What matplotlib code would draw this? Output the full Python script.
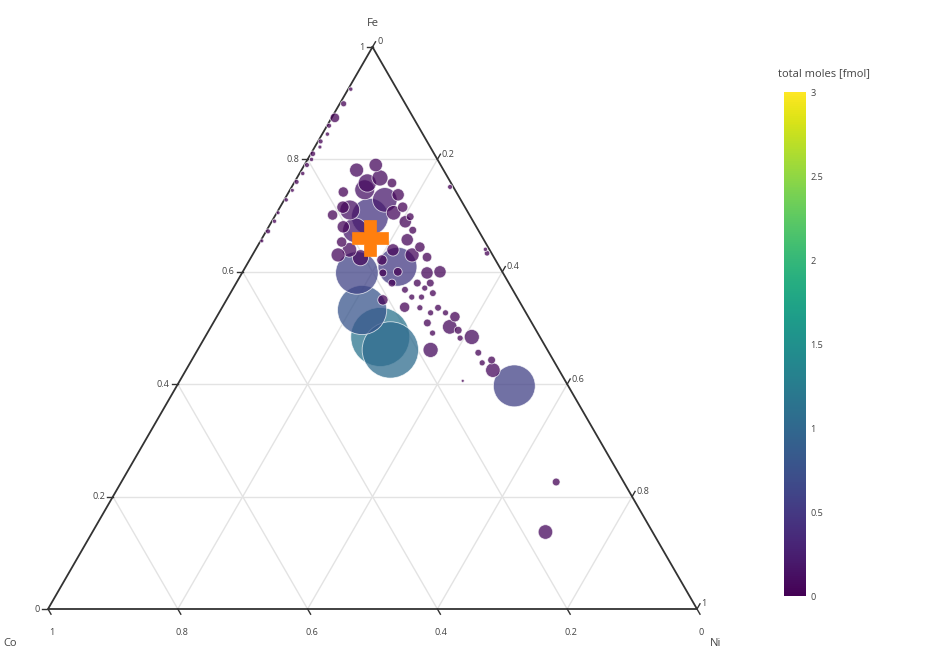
import numpy as np
import matplotlib
matplotlib.use("Agg")
import matplotlib.pyplot as plt
from matplotlib import cm, colors

plt.rcParams['font.family'] = ['Open Sans', 'DejaVu Sans']

# ---------------- data (fractions Fe, Co, Ni; total moles in fmol) ----------------
fe = [0.790, 0.758, 0.742, 0.746, 0.698, 0.710, 0.705, 0.715, 0.698, 0.674,
      0.609, 0.598, 0.644, 0.626, 0.600, 0.598, 0.598, 0.600, 0.580, 0.550,
      0.568, 0.580, 0.580, 0.555, 0.555, 0.571, 0.562, 0.537, 0.536, 0.527,
      0.536, 0.527, 0.509, 0.520, 0.502, 0.496, 0.491, 0.484, 0.461, 0.482,
      0.456, 0.443, 0.438, 0.425, 0.406, 0.397, 0.226, 0.137, 0.484, 0.461,
      0.532, 0.758, 0.715, 0.680, 0.653, 0.639, 0.657, 0.639, 0.621, 0.728,
      0.674, 0.781, 0.767, 0.737, 0.701, 0.630, 0.630, 0.689, 0.625,
      0.925, 0.899, 0.874, 0.860, 0.845, 0.832, 0.822, 0.810, 0.800, 0.790,
      0.775, 0.760, 0.745, 0.728, 0.705, 0.690, 0.672, 0.655,
      0.751, 0.633, 0.640]
co = [0.100, 0.091, 0.174, 0.139, 0.155, 0.180, 0.115, 0.096, 0.093, 0.101,
      0.157, 0.225, 0.105, 0.103, 0.096, 0.117, 0.185, 0.161, 0.180, 0.209,
      0.166, 0.141, 0.121, 0.162, 0.147, 0.134, 0.126, 0.182, 0.159, 0.147,
      0.131, 0.124, 0.161, 0.113, 0.130, 0.120, 0.162, 0.105, 0.180, 0.124,
      0.109, 0.095, 0.112, 0.102, 0.158, 0.083, 0.104, 0.165, 0.246, 0.242,
      0.250, 0.129, 0.188, 0.205, 0.221, 0.216, 0.118, 0.149, 0.175, 0.117,
      0.190, 0.134, 0.105, 0.092, 0.211, 0.238, 0.124, 0.105, 0.206,
      0.071, 0.095, 0.121, 0.137, 0.147, 0.164, 0.170, 0.187, 0.194, 0.206,
      0.220, 0.237, 0.251, 0.269, 0.293, 0.306, 0.325, 0.343,
      0.005, 0.007, 0.006]
ni = [0.110, 0.151, 0.084, 0.115, 0.147, 0.110, 0.180, 0.189, 0.209, 0.225,
      0.234, 0.177, 0.251, 0.271, 0.304, 0.285, 0.217, 0.239, 0.240, 0.241,
      0.266, 0.279, 0.299, 0.283, 0.298, 0.295, 0.312, 0.281, 0.305, 0.326,
      0.333, 0.349, 0.330, 0.367, 0.368, 0.384, 0.347, 0.411, 0.359, 0.394,
      0.435, 0.462, 0.450, 0.473, 0.436, 0.520, 0.670, 0.698, 0.270, 0.297,
      0.218, 0.113, 0.097, 0.115, 0.126, 0.145, 0.225, 0.212, 0.204, 0.155,
      0.136, 0.085, 0.128, 0.171, 0.088, 0.132, 0.246, 0.206, 0.169,
      0.004, 0.006, 0.005, 0.003, 0.008, 0.004, 0.008, 0.003, 0.006, 0.004,
      0.005, 0.003, 0.004, 0.003, 0.002, 0.004, 0.003, 0.002,
      0.244, 0.360, 0.354]
moles = [0.06, 0.03, 0.035, 0.13, 0.45, 0.13, 0.07, 0.035, 0.02, 0.02,
         0.50, 0.60, 0.035, 0.03, 0.05, 0.05, 0.02, 0.025, 0.02, 0.035,
         0.015, 0.02, 0.02, 0.012, 0.012, 0.012, 0.015, 0.035, 0.012, 0.012,
         0.015, 0.012, 0.02, 0.035, 0.07, 0.02, 0.012, 0.075, 0.075, 0.012,
         0.015, 0.02, 0.012, 0.07, 0.003, 0.58, 0.02, 0.07, 1.15, 1.05,
         0.80, 0.11, 0.05, 0.05, 0.035, 0.07, 0.05, 0.05, 0.035, 0.20,
         0.20, 0.065, 0.085, 0.05, 0.035, 0.065, 0.065, 0.05, 0.085,
         0.006, 0.012, 0.03, 0.008, 0.006, 0.008, 0.005, 0.01, 0.006, 0.008,
         0.006, 0.008, 0.005, 0.006, 0.005, 0.006, 0.008, 0.005,
         0.008, 0.01, 0.006]

# reference composition (orange cross)
ref_fe, ref_co, ref_ni = 0.660, 0.174, 0.166

tick_vals = [0, 0.2, 0.4, 0.6, 0.8, 1]
tick_text = ["0", "0.2", "0.4", "0.6", "0.8", "1"]
cbar_ticks = [0, 0.5, 1, 1.5, 2, 2.5, 3]
cbar_labels = ["0", "0.5", "1", "1.5", "2", "2.5", "3"]

# ---------------- helpers ----------------
S3 = np.sqrt(3) / 2


def tern(a, b, c):
    a = np.asarray(a, float); b = np.asarray(b, float); c = np.asarray(c, float)
    s = a + b + c
    return (c + a / 2) / s, (a * S3) / s


W, H = 925, 651
fig = plt.figure(figsize=(W / 100, H / 100), dpi=100)
L, R, T, B = 48, 697, 47, 609   # triangle pixel box
ax = fig.add_axes([L / W, (H - B) / H, (R - L) / W, (B - T) / H])
ax.set_xlim(0, 1)
ax.set_ylim(0, S3)
ax.axis('off')
PX = 1.0 / (R - L)   # one pixel in data units

grid_c = '#e3e3e3'
axis_c = '#333333'
txt_c = '#444444'
fs_tick = 6.6

# grid lines
for v in [0.2, 0.4, 0.6, 0.8]:
    x, y = tern([v, v], [1 - v, 0], [0, 1 - v]); ax.plot(x, y, color=grid_c, lw=1, zorder=1)
    x, y = tern([1 - v, 0], [v, v], [0, 1 - v]); ax.plot(x, y, color=grid_c, lw=1, zorder=1)
    x, y = tern([1 - v, 0], [0, 1 - v], [v, v]); ax.plot(x, y, color=grid_c, lw=1, zorder=1)

# triangle edges
x, y = tern([1, 0, 0, 1], [0, 1, 0, 0], [0, 0, 1, 0])
ax.plot(x, y, color=axis_c, lw=1.3, zorder=2, solid_joinstyle='miter', clip_on=False)

tl = 6 * PX
for v, t in zip(tick_vals, tick_text):
    # Fe (left) axis: horizontal ticks to the left
    x0, y0 = tern(v, 1 - v, 0)
    ax.plot([x0, x0 - tl], [y0, y0], color=axis_c, lw=1, clip_on=False)
    ax.text(x0 - tl - 2 * PX, y0, t, ha='right', va='center', fontsize=fs_tick, color=txt_c)
    # Co (bottom) axis: ticks down-right
    x0, y0 = tern(0, v, 1 - v)
    x1, y1 = x0 + 0.5 * tl, y0 - S3 * tl
    ax.plot([x0, x1], [y0, y1], color=axis_c, lw=1, clip_on=False)
    ax.text(x1 + 1 * PX, y1 - 14 * PX, t, ha='center', va='top', fontsize=fs_tick, color=txt_c)
    # Ni (right) axis: ticks up-right
    x0, y0 = tern(1 - v, 0, v)
    x1, y1 = x0 + 0.5 * tl, y0 + S3 * tl
    ax.plot([x0, x1], [y0, y1], color=axis_c, lw=1, clip_on=False)
    ax.text(x1 + 1.5 * PX, y1, t, ha='left', va='center', fontsize=fs_tick, color=txt_c)

# axis titles
fig.text(373 / W, 1 - 23 / H, 'Fe', ha='center', va='center', fontsize=8, color=txt_c)
fig.text(3 / W, 1 - 643 / H, 'Co', ha='left', va='center', fontsize=8, color=txt_c)
fig.text(710 / W, 1 - 643 / H, 'Ni', ha='left', va='center', fontsize=8, color=txt_c)

# bubbles
cmap = matplotlib.colormaps['viridis']
norm = colors.Normalize(vmin=0, vmax=3)
m = np.asarray(moles)
order = np.argsort(-m)
px_, py_ = tern(np.asarray(fe)[order], np.asarray(co)[order], np.asarray(ni)[order])
ax.scatter(px_, py_, s=1568 * m[order], c=m[order], cmap=cmap, norm=norm,
           alpha=0.75, edgecolors='white', linewidths=0.6, zorder=3, clip_on=False)

# reference cross
cx, cy = tern(ref_fe, ref_co, ref_ni)
ax.plot([cx], [cy], marker='P', markersize=26, color='#ff7f0e', markeredgecolor='#ff7f0e',
        markeredgewidth=0.5, zorder=5, linestyle='none')

# colorbar
cax = fig.add_axes([784 / W, (H - 596) / H, 22 / W, (596 - 92) / H])
sm = cm.ScalarMappable(norm=norm, cmap=cmap)
cb = fig.colorbar(sm, cax=cax, ticks=cbar_ticks)
cb.ax.set_yticklabels(cbar_labels)
cb.outline.set_visible(False)
cb.ax.tick_params(length=0, labelsize=fs_tick, labelcolor=txt_c, pad=3)
fig.text(778 / W, 1 - 74 / H, 'total moles [fmol]', ha='left', va='center', fontsize=8, color=txt_c)

fig.savefig('out.png', dpi=100, facecolor='white')
